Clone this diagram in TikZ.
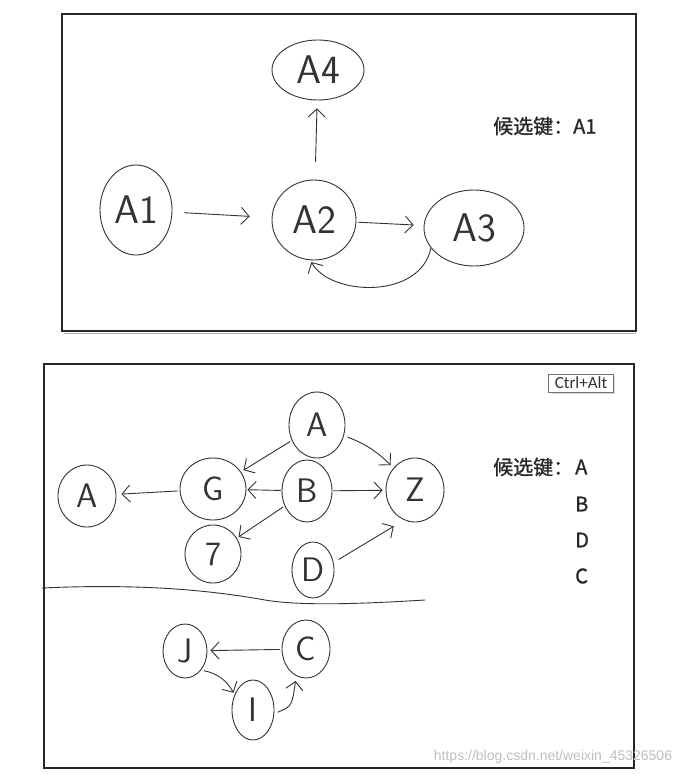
\documentclass[tikz,border=0pt]{standalone}
\usepackage{fontspec}
\newfontfamily\cjk[FakeBold=1]{Noto Sans CJK SC}
\newfontfamily\uifont{Carlito}
\newfontfamily\wmfont{Liberation Sans}
\usetikzlibrary{shapes.geometric,arrows.meta,shadows}
\begin{document}
\begin{tikzpicture}[x=1pt,y=-1pt,
  ink/.style={draw=black!80, line width=0.9pt, line cap=round, line join=round},
  circ/.style={ellipse, ink, inner sep=0pt, text=black!80,
    font=\sffamily\fontsize{40}{40}\selectfont},
  scirc/.style={circ, font=\sffamily\fontsize{34}{34}\selectfont},
  arr/.style={ink, -{Straight Barb[length=8pt,width=17pt,line width=0.9pt]}},
  frame/.style={draw=black!85, line width=1.2pt},
  note/.style={font=\cjk\fontsize{20}{20}\selectfont, text=black!85, inner sep=0pt},
  key/.style={font=\cjk\fontsize{20}{20}\selectfont, text=black!85, inner sep=0pt}]

\useasboundingbox (0,0) rectangle (693,776);
\fill[white] (0,0) rectangle (693,776);

% ---------- top panel ----------
\draw[draw=black!30, line width=1pt] (64,333) -- (636,333);
\draw[frame] (62,14) rectangle (636,331);

\node[circ, minimum width=92pt, minimum height=60pt] (A4) at (318,70) {A4};
\node[circ, minimum width=72pt, minimum height=90pt] (A1) at (136,210) {A1};
\node[circ, minimum width=84pt, minimum height=80pt] (A2) at (314,220) {A2};
\node[circ, minimum width=100pt, minimum height=76pt] (A3) at (474,228) {A3};

\draw[arr, shorten <=18pt, shorten >=8pt] (A2) -- (A4);
\draw[arr, shorten <=12pt, shorten >=22pt] (A1) -- (A2);
\draw[arr, shorten <=2pt, shorten >=10pt] (A2) -- (A3);
\draw[arr, shorten >=2pt] (A3.205) .. controls (420,300) and (330,296) .. (A2.-95);

\node[note, anchor=west] (cand1) at (493,126) {候选键：A1};

% ---------- bottom panel ----------
\draw[frame] (44,364) rectangle (634,768);
\node[draw=black!55, fill=white, line width=0.8pt, inner xsep=6pt, inner ysep=3pt,
      font=\uifont\fontsize{17}{17}\selectfont, text=black!80,
      drop shadow={shadow xshift=2pt, shadow yshift=-2pt, opacity=0.3}] (kbd) at (581,383) {Ctrl+Alt};

\node[scirc, minimum width=56pt, minimum height=66pt] (A) at (317,425) {A};
\node[scirc, minimum width=58pt, minimum height=62pt] (H) at (87,496) {A};
\node[scirc, minimum width=66pt, minimum height=62pt] (G) at (213,489) {G};
\node[scirc, minimum width=50pt, minimum height=62pt] (B) at (307,491) {B};
\node[scirc, minimum width=58pt, minimum height=64pt] (E) at (415,490) {Z};
\node[scirc, minimum width=56pt, minimum height=58pt] (F) at (213,554) {7};
\node[scirc, minimum width=42pt, minimum height=56pt] (D) at (313,570) {D};
\node[scirc, minimum width=44pt, minimum height=54pt] (J) at (185,651) {J};
\node[scirc, minimum width=48pt, minimum height=58pt] (C) at (306,649) {C};
\node[scirc, minimum width=42pt, minimum height=60pt] (I) at (253,710) {I};

\draw[arr, shorten <=2pt, shorten >=3pt] (A) -- (G);
\draw[arr, shorten <=4pt, shorten >=4pt] (A) to[bend left=12] (E);
\draw[arr, shorten <=2pt, shorten >=5pt] (G) -- (H);
\draw[arr, shorten <=1pt, shorten >=1pt] (B) -- (G);
\draw[arr, shorten <=1pt, shorten >=3pt] (B) -- (E);
\draw[arr, shorten <=2pt, shorten >=2pt] (B) -- (F);
\draw[arr, shorten <=6pt, shorten >=12pt] (D.20) -- (E.-110);
\draw[arr, shorten <=2pt, shorten >=3pt] (C) -- (J);
\draw[arr, shorten <=3pt, shorten >=2pt] (J.-50) to[bend left=25] (I.140);
\draw[arr, shorten <=4pt, shorten >=5pt] (I.-10) .. controls (292,706) .. (C.-110);

\draw[ink] (42,588) .. controls (150,583) and (220,592) .. (265,600)
  .. controls (300,606) and (360,604) .. (425,600);

\node[key, anchor=west] (cand2) at (493,467) {候选键：};
\node[key, anchor=west] (kA) at (575,467) {A};
\node[key, anchor=west] (kB) at (575,504) {B};
\node[key, anchor=west] (kD) at (575,540) {D};
\node[key, anchor=west] (kC) at (575,576) {C};

\node[font=\wmfont\fontsize{14}{14}\selectfont, text=black!25, inner sep=0pt] (wm) at (553,757) {https://blog.csdn.net/weixin\_45326506};
\end{tikzpicture}
\end{document}
